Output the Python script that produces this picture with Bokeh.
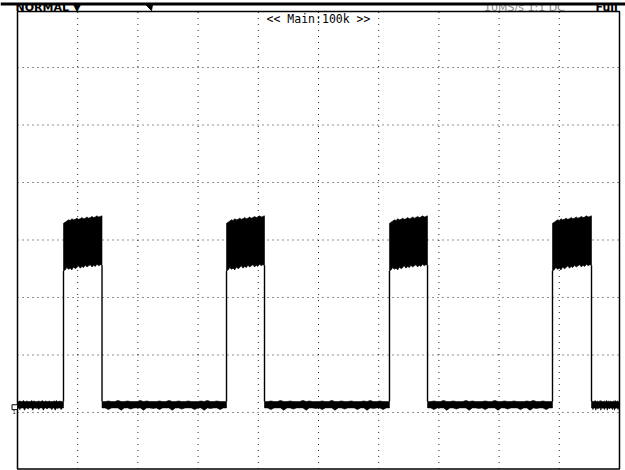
from bokeh.plotting import figure
from bokeh.models import Range1d
from bokeh.core.properties import value
from bokeh.embed import file_html
from bokeh.resources import INLINE

# Screen units are divisions: 10 across (0..10), 8 high (-4..4)
x_grid = [1, 2, 3, 4, 5, 6, 7, 8, 9]
y_grid = [-3, -2, -1, 0, 1, 2, 3]

# Pulse edges (div) of the captured waveform
pulse_rise = [0.764, 3.472, 6.179, 8.887]
pulse_fall = [1.404, 4.103, 6.811, 9.535]

# Noise envelope of the high level, sampled across each pulse (div)
high_top_env = [0.29, 0.31, 0.33, 0.35, 0.34, 0.37, 0.35, 0.36, 0.38, 0.36, 0.37, 0.39,
                0.37, 0.38, 0.40, 0.38, 0.39, 0.41, 0.39, 0.40, 0.42, 0.40, 0.41, 0.42]
high_bot_env = [-0.54, -0.52, -0.48, -0.51, -0.49, -0.52, -0.47, -0.50, -0.48, -0.45, -0.49, -0.46,
                -0.48, -0.44, -0.47, -0.45, -0.43, -0.47, -0.44, -0.46, -0.42, -0.45, -0.43, -0.44]

# Noise envelope of the low level, sampled across each gap (div)
low_top_env = [-2.81, -2.81, -2.80, -2.81, -2.81, -2.79, -2.81, -2.81, -2.80, -2.81,
               -2.81, -2.81, -2.79, -2.81, -2.80, -2.81, -2.81, -2.81, -2.80, -2.81,
               -2.81, -2.79, -2.81, -2.81, -2.80, -2.81, -2.81, -2.80, -2.81, -2.81,
               -2.81, -2.80, -2.81, -2.79, -2.81, -2.81, -2.80, -2.81, -2.81, -2.81]
low_bot_env = [-2.92, -2.92, -2.95, -2.92, -2.92, -2.92, -2.96, -2.92, -2.92, -2.94,
               -2.92, -2.92, -2.92, -2.96, -2.92, -2.92, -2.93, -2.92, -2.95, -2.92,
               -2.92, -2.92, -2.96, -2.92, -2.92, -2.94, -2.92, -2.92, -2.92, -2.95,
               -2.92, -2.92, -2.96, -2.92, -2.93, -2.92, -2.92, -2.95, -2.92, -2.92]
low_level = -2.81
ground_level = -2.905

title_text = "<< Main:100k >>"
mode_text = "NORMAL \u25bc"
status_text = "10MS/s  1:1  DC"
status_text2 = "Full"

X0, X1 = -0.2824, 10.0997
Y0, Y1 = -4.0087, 4.1652
BORDER_TOP, BORDER_BOT = 3.974, -3.983

p = figure(width=625, height=470, x_range=Range1d(X0, X1), y_range=Range1d(Y0, Y1),
           x_axis_type=None, y_axis_type=None, output_backend="svg",
           toolbar_location=None, min_border=0)
p.outline_line_color = None
p.background_fill_color = "white"
p.border_fill_color = "white"

# dotted graticule
p.segment(x0=x_grid, y0=[BORDER_BOT] * len(x_grid), x1=x_grid, y1=[BORDER_TOP] * len(x_grid),
          line_color="#222222", line_width=1, line_dash="1 5")
p.segment(x0=[0] * len(y_grid), y0=y_grid, x1=[10] * len(y_grid), y1=y_grid,
          line_color="#222222", line_width=1, line_dash="1 4")

# header texts, partly hidden under the top bar
p.text(x=[-0.033], y=[4.045], text=[mode_text], text_font=value("DejaVu Sans"),
       text_font_size="11px", text_font_style="bold", text_baseline="alphabetic",
       text_color="black")
p.text(x=[7.75], y=[4.045], text=[status_text], text_font=value("DejaVu Sans"),
       text_font_size="11px", text_baseline="alphabetic", text_color="#8a8a8a")
p.text(x=[9.6], y=[4.045], text=[status_text2], text_font=value("DejaVu Sans"),
       text_font_size="11px", text_font_style="bold", text_baseline="alphabetic",
       text_color="black")
p.quad(left=[X0], right=[X1], bottom=[4.10], top=[Y1], fill_color="white", line_color=None)
p.segment(x0=[X0], y0=[4.104], x1=[X1], y1=[4.104], line_color="black", line_width=3)
p.patch(x=[2.126, 2.243, 2.226], y=[4.10, 4.10, 3.99], fill_color="black", line_color="black")

# screen border
p.quad(left=[0], right=[10], bottom=[BORDER_BOT], top=[BORDER_TOP],
       fill_color=None, line_color="black", line_width=1.5)

# low level noise bands between pulses
gap_start = [0.0] + pulse_fall
gap_end = pulse_rise + [10.0]
n_low = len(low_top_env)
low_xs, low_ys = [], []
for a, b in zip(gap_start, gap_end):
    xs = [a + (b - a) * k / (n_low - 1) for k in range(n_low)]
    low_xs.append(xs + xs[::-1])
    low_ys.append(low_top_env + low_bot_env[::-1])
p.patches(xs=low_xs, ys=low_ys, fill_color="black", line_color="black", line_width=0.6)

# pulse edges
p.segment(x0=pulse_rise, y0=[low_level] * 4, x1=pulse_rise, y1=[high_bot_env[0]] * 4,
          line_color="black", line_width=1.4)
p.segment(x0=pulse_fall, y0=[low_level] * 4, x1=pulse_fall, y1=[high_bot_env[-1]] * 4,
          line_color="black", line_width=1.4)

# high level noise bands
n_high = len(high_top_env)
hi_xs, hi_ys = [], []
for a, b in zip(pulse_rise, pulse_fall):
    xs = [a + (b - a) * k / (n_high - 1) for k in range(n_high)]
    hi_xs.append(xs + xs[::-1])
    hi_ys.append(high_top_env + high_bot_env[::-1])
p.patches(xs=hi_xs, ys=hi_ys, fill_color="black", line_color="black", line_width=0.6)

# channel ground marker
p.quad(left=[-0.091], right=[0.0], bottom=[ground_level - 0.045], top=[ground_level + 0.04],
       fill_color="white", line_color="black", line_width=1)
p.text(x=[-0.085], y=[ground_level - 0.06], text=["1"], text_font=value("DejaVu Sans"),
       text_font_size="5px", text_baseline="top", text_color="black")

# trigger / zoom title
p.text(x=[5.0], y=[3.835], text=[title_text], text_font=value("DejaVu Sans Mono"),
       text_font_size="11.5px", text_align="center", text_baseline="middle",
       text_color="black")

open("out.html", "w").write(file_html(p, INLINE))
